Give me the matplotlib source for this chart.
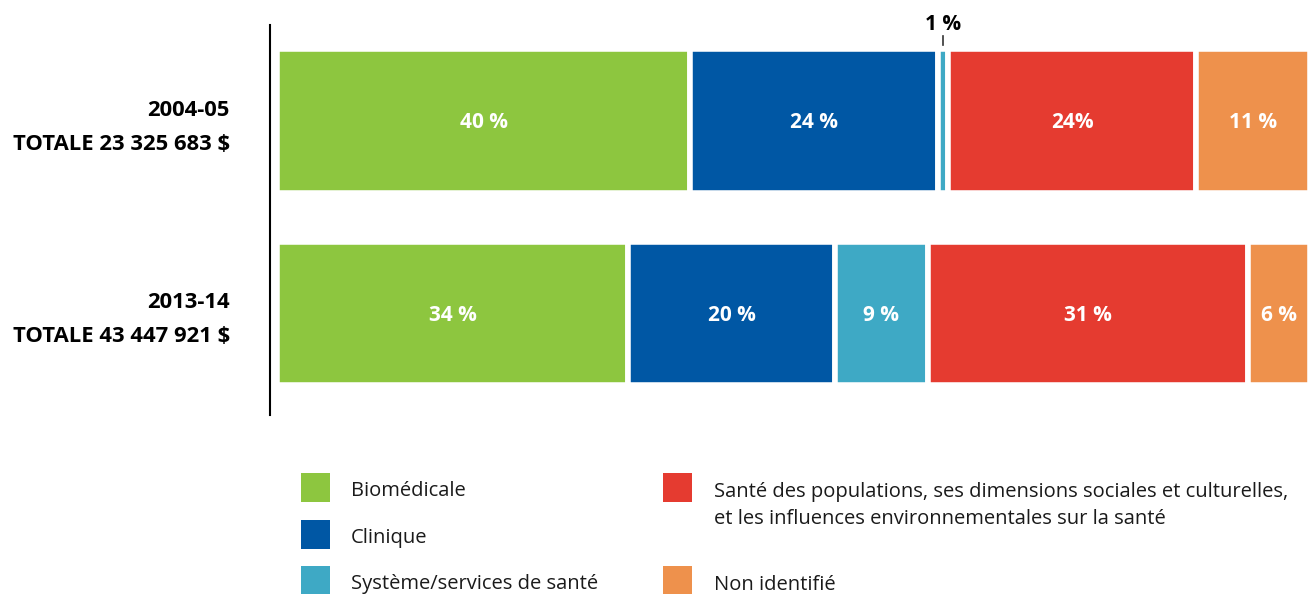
import matplotlib
matplotlib.use("Agg")
import matplotlib.pyplot as plt
from matplotlib.patches import Rectangle
from matplotlib.transforms import blended_transform_factory
import numpy as np

plt.rcParams['font.family'] = ['Open Sans', 'DejaVu Sans']

years = ["2004-05", "2013-14"]
totals = ["TOTALE 23 325 683 $", "TOTALE 43 447 921 $"]
categories = ["Biomédicale", "Clinique", "Système/services de santé",
              "Santé des populations, ses dimensions sociales et culturelles,\net les influences environnementales sur la santé",
              "Non identifié"]
colors = ["#8DC63F", "#0057A4", "#3EA9C5", "#E53B30", "#EE914C"]
values_2004 = [40, 24, 1, 24, 11]
values_2013 = [34, 20, 9, 31, 6]
labels_2004 = ["40 %", "24 %", "1 %", "24%", "11 %"]
labels_2013 = ["34 %", "20 %", "9 %", "31 %", "6 %"]

values = np.array([values_2004, values_2013], dtype=float)
labels = [labels_2004, labels_2013]

W, H = 1310, 594
fig = plt.figure(figsize=(W / 100, H / 100), dpi=100)
ax = fig.add_axes([277 / W, (H - 415) / H, 1033 / W, 390 / H])

bar_h = 0.745
ypos = np.arange(len(years))
lefts = np.zeros(len(years))
for j in range(values.shape[1]):
    bars = ax.barh(ypos, values[:, j], left=lefts, height=bar_h, color=colors[j],
                   edgecolor="white", linewidth=4.0)
    for i, b in enumerate(bars):
        v = values[i, j]
        cx = lefts[i] + v / 2
        if v >= 3:
            ax.text(cx, ypos[i] + 0.01, labels[i][j], ha="center", va="center",
                    color="white", fontsize=15, fontweight="bold")
        else:
            top = ypos[i] - 0.36
            ax.plot([cx, cx], [top - 0.035, top - 0.085], color="#333333", lw=1.2,
                    clip_on=False)
            ax.text(cx, top - 0.09, labels[i][j], ha="center", va="bottom",
                    color="black", fontsize=15, fontweight="bold")
    lefts += values[:, j]

ax.set_xlim(0, 100)
ax.set_ylim(1.53, -0.5)
ax.set_xticks([])
ax.set_yticks([])
for s in ["top", "right", "bottom"]:
    ax.spines[s].set_visible(False)
ax.spines["left"].set_position(("outward", 5.0))
ax.spines["left"].set_linewidth(1.5)
ax.spines["left"].set_color("black")

tr = blended_transform_factory(fig.transFigure, ax.transData)
for i in range(len(years)):
    ax.text(230 / W, ypos[i] - 0.055, years[i], transform=tr, ha="right", va="center",
            fontsize=15.8, fontweight="bold", color="black")
    ax.text(230 / W, ypos[i] + 0.12, totals[i], transform=tr, ha="right", va="center",
            fontsize=15.8, fontweight="bold", color="black")

# manual legend
leg_pos = [(301, 473), (301, 520), (301, 566), (663, 473), (663, 566)]
text_x = [351, 351, 351, 714, 714]
sq = 29
for k, (lx, ly) in enumerate(leg_pos):
    fig.add_artist(Rectangle((lx / W, (H - ly - sq) / H), sq / W, sq / H,
                             transform=fig.transFigure, color=colors[k], lw=0))
    lines = categories[k].split("\n")
    for li, line in enumerate(lines):
        fig.text(text_x[k] / W, (H - (ly + sq / 2 + 4) - li * 27) / H, line,
                 ha="left", va="center", fontsize=14.5, color="#1a1a1a")

fig.savefig("out.png", dpi=100)
